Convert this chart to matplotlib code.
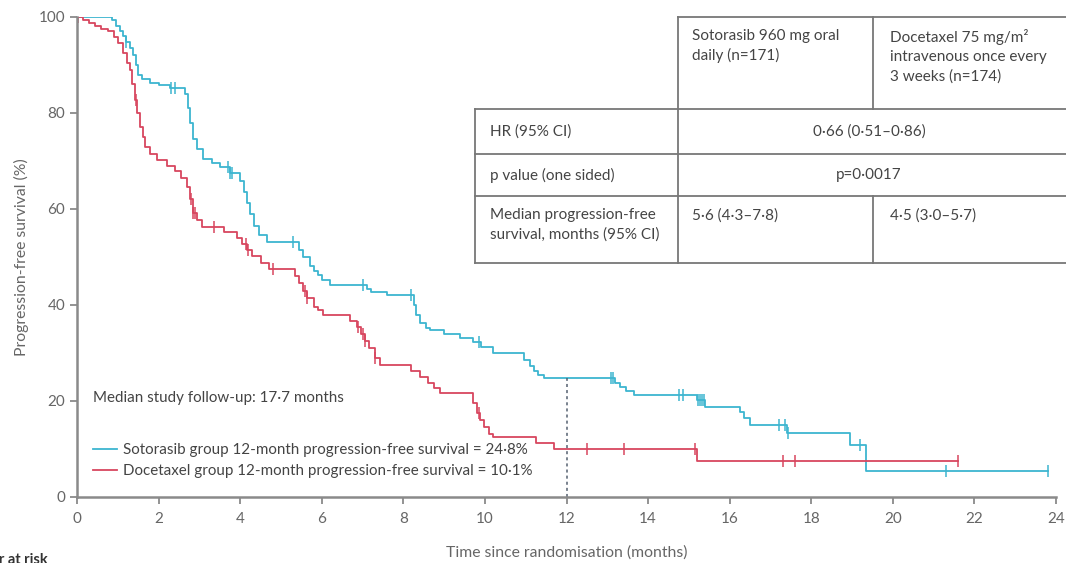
import numpy as np
import matplotlib
matplotlib.use("Agg")
import matplotlib.pyplot as plt

plt.rcParams['font.family'] = ['Lato', 'DejaVu Sans']

# Kaplan-Meier steps: time (months) -> survival (%) after that time
sot_times = [0, 0.85, 0.95, 1.05, 1.13, 1.2, 1.3, 1.37, 1.45, 1.5, 1.6, 1.79, 2.0, 2.28,
             2.65, 2.72, 2.78, 2.85, 2.95, 3.1, 3.3, 3.5, 3.75, 4.0, 4.1, 4.17, 4.25, 4.33,
             4.45, 4.66, 5.45, 5.55, 5.7, 5.8, 5.9, 6.0, 6.2, 7.1, 7.2, 7.6, 8.25, 8.3, 8.42,
             8.55, 8.66, 9.0, 9.4, 9.7, 9.9, 10.2, 10.95, 11.1, 11.2, 11.3, 11.44, 13.2,
             13.3, 13.45, 13.65, 15.2, 15.4, 16.25, 16.35, 16.5, 17.4, 18.95, 19.35]
sot_surv = [100, 99.4, 98.2, 97, 96, 94.8, 93.6, 92, 90, 88, 87, 86.2, 85.8, 85.2,
            84, 81, 78, 74.5, 72.5, 70.5, 69.5, 68.7, 67.5, 65.8, 63.5, 61.2, 59, 56.5,
            54.5, 53.2, 51.5, 50, 48.2, 47, 46.2, 45.2, 44.2, 43.4, 42.7, 42.0, 40, 38, 36.2,
            35.3, 34.8, 34.0, 33.2, 32.2, 31.2, 30.0, 28.5, 27.2, 26.2, 25.5, 24.8, 23.8,
            22.9, 22.0, 21.2, 20.2, 18.8, 17.8, 16.5, 15.0, 13.3, 10.8, 5.4]
sot_end = 23.8
sot_censor = [1.2, 2.3, 2.4, 3.7, 3.75, 3.8, 5.3, 7.0, 8.2, 9.85, 13.1, 13.15, 14.75, 14.85,
              15.22, 15.27, 15.32, 15.37, 17.2, 17.35, 17.42, 19.2, 21.3, 23.8]

doc_times = [0, 0.15, 0.3, 0.45, 0.6, 0.75, 0.9, 1.0, 1.13, 1.22, 1.3, 1.36, 1.42, 1.48,
             1.55, 1.62, 1.67, 1.8, 1.96, 2.2, 2.4, 2.55, 2.7, 2.78, 2.85, 2.95, 3.07, 3.6,
             3.93, 4.05, 4.17, 4.3, 4.5, 4.7, 5.35, 5.45, 5.55, 5.65, 5.8, 5.9, 6.04, 6.7,
             6.87, 6.95, 7.05, 7.15, 7.3, 7.44, 8.2, 8.42, 8.6, 8.75, 8.9, 9.72, 9.8, 9.88,
             9.97, 10.1, 10.2, 11.25, 11.7, 15.2]
doc_surv = [100, 99.4, 98.8, 98.2, 97.6, 97, 95.8, 94.5, 92.5, 90.5, 89, 86, 82.7, 80,
            77, 75, 73, 71.5, 70.2, 69, 68, 66.5, 64.6, 62, 59.2, 57.8, 56.3, 55.2,
            54, 52.8, 51.5, 50.2, 48.7, 47.5, 46, 44.5, 43, 41.5, 39.6, 39, 37.9, 36.6,
            35.4, 34, 32.5, 31, 29, 27.5, 26.2, 25, 23.8, 22.7, 21.7, 19.5, 17.5, 16,
            14.5, 13.2, 12.5, 11.2, 10.1, 7.4]
doc_end = 21.6
doc_censor = [0.03, 1.45, 2.8, 2.85, 2.9, 3.35, 4.15, 4.2, 4.8, 5.6, 5.65, 6.9, 7.0, 7.05,
              7.3, 9.85, 12.5, 13.4, 15.15, 17.3, 17.6, 21.6]

landmark = 12
sot_12 = 24.8
doc_12 = 10.1
followup = 17.7

xticks = list(range(0, 25, 2))
yticks = [0, 20, 40, 60, 80, 100]

table_header = ["Sotorasib 960 mg oral\ndaily (n=171)",
                "Docetaxel 75 mg/m\u00b2\nintravenous once every\n3 weeks (n=174)"]
table_rows = ["HR (95% CI)", "p value (one sided)", "Median progression-free\nsurvival, months (95% CI)"]
hr_text = "0\u00b766 (0\u00b751\u20130\u00b786)"
p_text = "p=0\u00b70017"
median_text = ["5\u00b76 (4\u00b73\u20137\u00b78)", "4\u00b75 (3\u00b70\u20135\u00b77)"]

CYAN = '#3db5d0'
RED = '#d8465f'
GREY = '#666666'


def dot(v):
    return f"{v:.1f}".replace('.', '\u00b7')


def surv_at(times, surv, pts):
    idx = np.searchsorted(np.asarray(times), np.asarray(pts), side='right') - 1
    return np.asarray(surv)[idx]


W, H = 1066, 563
fig = plt.figure(figsize=(W / 100, H / 100), dpi=100)
ax = fig.add_axes([77 / W, 66 / H, 979 / W, 480 / H])

ax.step(sot_times + [sot_end], sot_surv + [sot_surv[-1]], where='post', color=CYAN, lw=1.3,
        label=f"Sotorasib group 12-month progression-free survival = {dot(sot_12)}%")
ax.step(doc_times + [doc_end], doc_surv + [doc_surv[-1]], where='post', color=RED, lw=1.3,
        label=f"Docetaxel group 12-month progression-free survival = {dot(doc_12)}%")
ax.plot(sot_censor, surv_at(sot_times, sot_surv, sot_censor), ls='none', marker='|',
        ms=9, mew=1.1, color=CYAN)
ax.plot(doc_censor, surv_at(doc_times, doc_surv, doc_censor), ls='none', marker='|',
        ms=9, mew=1.1, color=RED)

# 12-month landmark
ax.plot([landmark, landmark], [0, sot_12], ls=(0, (2, 2)), color='#556070', lw=1.1)

ax.set_xlim(0, 24)
ax.set_ylim(0, 100)
ax.set_xticks(xticks)
ax.set_yticks(yticks)
for s in ['top', 'right']:
    ax.spines[s].set_visible(False)
for s in ['left', 'bottom']:
    ax.spines[s].set_color('#8a8a8a')
    ax.spines[s].set_linewidth(1.8)
ax.tick_params(colors='#8a8a8a', labelcolor=GREY, labelsize=11, length=5, width=1.3)
ax.tick_params(axis='x', pad=6)
ax.set_xlabel("Time since randomisation (months)", color=GREY, fontsize=11.3, labelpad=14)
ax.set_ylabel("Progression-free survival (%)", color=GREY, fontsize=11.3, labelpad=7)

ax.text(0.4, 20.7, f"Median study follow-up: {dot(followup)} months", color='#444444',
        fontsize=10.9, va='center')
ax.legend(loc='upper left', bbox_to_anchor=(93 / W, 1 - 443 / H),
          bbox_transform=fig.transFigure, frameon=False, fontsize=10.9,
          handlelength=1.6, handletextpad=0.4, labelspacing=0.45,
          borderpad=0, borderaxespad=0, labelcolor='#444444')

# summary table drawn in pixel space
tab = fig.add_axes([0, 0, 1, 1])
tab.set_xlim(0, W)
tab.set_ylim(H, 0)
tab.axis('off')
x0, x1, x2, x3 = 475, 678, 873, W + 2
y_top, y_hdr, y_r1, y_r2, y_bot = 17, 109, 154, 196, 263
line = dict(color='#777777', lw=1.3)
tab.plot([x1, x3], [y_top, y_top], **line)
for y in (y_hdr, y_r1, y_r2, y_bot):
    tab.plot([x0, x3], [y, y], **line)
tab.plot([x0, x0], [y_hdr, y_bot], **line)
tab.plot([x1, x1], [y_top, y_bot], **line)
tab.plot([x2, x2], [y_top, y_hdr], **line)
tab.plot([x2, x2], [y_r2, y_bot], **line)

txt = dict(fontsize=11, color='#444444', linespacing=1.45)
tab.text(x1 + 14, y_top + 12, table_header[0], va='top', **txt)
tab.text(x2 + 17, y_top + 12, table_header[1], va='top', **txt)
for (ya, yb), label in zip([(y_hdr, y_r1), (y_r1, y_r2)], table_rows[:2]):
    tab.text(x0 + 15, (ya + yb) / 2, label, va='center', **txt)
tab.text(x0 + 15, y_r2 + 12, table_rows[2], va='top', **txt)
tab.text((x1 + x3) / 2 - 4, (y_hdr + y_r1) / 2, hr_text, ha='center', va='center', **txt)
tab.text((x1 + x3) / 2 - 4, (y_r1 + y_r2) / 2, p_text, ha='center', va='center', **txt)
tab.text(x1 + 14, y_r2 + 12, median_text[0], va='top', **txt)
tab.text(x2 + 17, y_r2 + 12, median_text[1], va='top', **txt)

# start of the at-risk table, cut by the figure edge
fig.text(48 / W, 1 - 553 / H, "Number at risk", ha='right', va='top', fontsize=10.5,
         color='#333333', fontweight='bold')

fig.savefig('out.png', dpi=100)
